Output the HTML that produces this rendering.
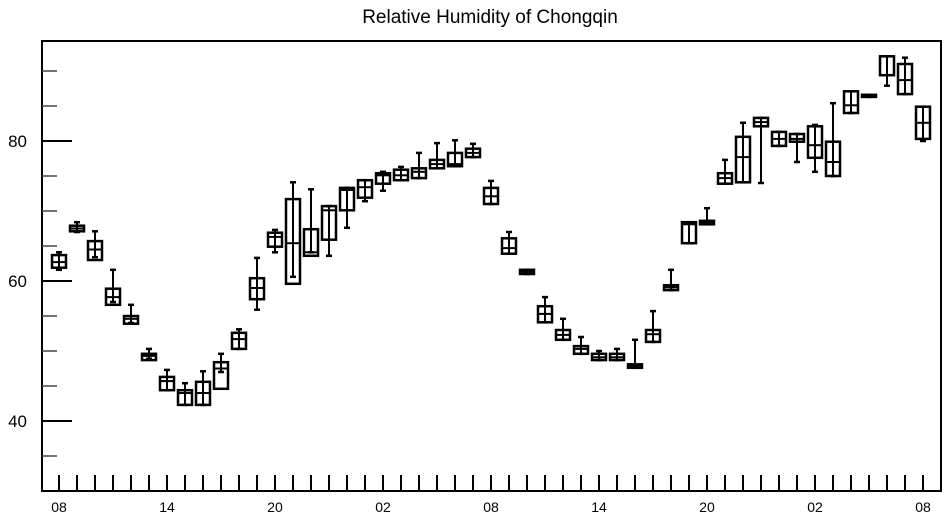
<!DOCTYPE html>
<html><head><meta charset="utf-8"><style>
html,body{margin:0;padding:0;background:#fff;}
svg text{font-family:"Liberation Sans",sans-serif;fill:#000;}
</style></head><body>
<svg id="chart" width="947" height="520" viewBox="0 0 947 520" xmlns="http://www.w3.org/2000/svg">
<text x="490" y="23" font-size="19" text-anchor="middle">Relative Humidity of Chongqin</text>
<rect x="42" y="41" width="899" height="450" fill="none" stroke="#000" stroke-width="2"/>
<g id="axes"></g>
<g id="boxes"></g>
</svg>
<script>
const hours = ["08","09","10","11","12","13","14","15","16","17","18","19","20","21","22","23","00","01","02","03","04","05","06","07","08","09","10","11","12","13","14","15","16","17","18","19","20","21","22","23","00","01","02","03","04","05","06","07","08"];
const xTickLabels = ["08","14","20","02","08","14","20","02","08"];
const yTickLabels = [40,60,80];
const q1 =  [61.9,67.1,63.0,56.6,53.9,48.7,44.4,42.3,42.3,44.6,50.3,57.4,64.9,59.6,63.6,65.9,70.1,71.9,73.9,74.4,74.7,76.1,76.4,77.7,71.0,63.9,61.0,54.1,51.6,49.6,48.7,48.7,47.6,51.3,58.7,65.4,68.1,73.9,74.1,82.1,79.3,79.9,77.6,75.0,84.0,86.3,89.4,86.7,80.3];
const med = [62.7,67.5,64.5,57.7,54.6,49.3,45.7,44.0,44.0,47.5,51.7,59.0,66.3,65.4,64.1,70.1,73.0,73.4,75.1,75.1,75.6,76.7,76.7,78.3,72.1,64.7,61.3,55.3,52.3,50.3,49.1,49.1,47.9,52.4,59.1,68.1,68.4,74.7,77.7,82.7,80.3,80.3,79.4,77.0,85.1,86.4,92.1,88.7,82.6];
const q3 =  [63.7,67.9,65.7,58.9,55.0,49.6,46.3,44.4,45.6,48.4,52.6,60.4,66.9,71.7,67.4,70.7,73.3,74.4,75.4,75.9,76.1,77.3,78.3,78.9,73.3,66.1,61.6,56.4,53.0,50.7,49.6,49.6,48.1,53.0,59.4,68.4,68.6,75.4,80.6,83.3,81.3,81.0,82.1,79.9,87.1,86.6,92.1,91.0,84.9];
const lo =  [61.6,67.0,63.4,57.0,54.0,48.9,44.4,42.3,42.3,47.0,50.3,55.9,64.1,60.6,64.1,63.6,67.6,71.4,72.9,74.4,74.7,76.1,76.4,77.7,71.0,63.9,61.0,54.1,51.6,49.6,48.7,48.7,47.6,51.3,58.7,65.4,68.1,73.9,74.1,74.0,79.3,77.0,75.6,75.0,84.0,86.3,87.9,86.7,80.0];
const hi =  [64.1,68.4,67.1,61.6,56.6,50.3,47.3,45.4,47.1,49.6,53.1,63.3,67.3,74.1,73.1,70.7,73.3,74.4,75.6,76.3,78.3,79.7,80.1,79.6,74.3,67.0,61.6,57.7,54.6,52.0,50.0,50.3,51.6,55.7,61.6,68.4,70.4,77.3,82.6,83.3,81.3,81.0,82.3,85.4,87.1,86.6,92.1,91.9,84.9];

const NS="http://www.w3.org/2000/svg";
const yScale = v => 141 - (v - 80) * 7;
const xScale = i => 59 + i * 18;
function mk(tag, attrs, parent){const e=document.createElementNS(NS,tag);for(const k in attrs)e.setAttribute(k,attrs[k]);parent.appendChild(e);return e;}
const axes=document.getElementById('axes');
const boxes=document.getElementById('boxes');
// y ticks every 5
for(let v=35; v<=90; v+=5){
  const major = yTickLabels.indexOf(v)>=0;
  const t=mk('line',{x1:42,x2:major?72:57,y1:yScale(v),y2:yScale(v),stroke:major?'#000':'#444','stroke-width':major?2:1.5},axes);
  
  
}
yTickLabels.forEach(v=>{
  const t=mk('text',{x:27,y:yScale(v)+6,'font-size':17,'text-anchor':'end'},axes);
  t.textContent=v;
  
  
});
hours.forEach((h,i)=>{
  const t=mk('line',{x1:xScale(i),x2:xScale(i),y1:475,y2:491,stroke:'#000','stroke-width':2},axes);
  
  
});
xTickLabels.forEach((lab,k)=>{
  const t=mk('text',{x:xScale(k*6),y:512,'font-size':14,'text-anchor':'middle'},axes);
  t.textContent=lab;
  
  
});
hours.forEach((h,i)=>{
  const g=mk('g',{},boxes);
  
  
  const x=xScale(i);
  const yq1=yScale(q1[i]), yq3=yScale(q3[i]), ym=yScale(med[i]), yl=yScale(lo[i]), yh=yScale(hi[i]);
  mk('line',{x1:x,x2:x,y1:yh,y2:yl,stroke:'#000','stroke-width':2},g);
  mk('line',{x1:x-3,x2:x+3,y1:yh,y2:yh,stroke:'#000','stroke-width':2.5},g);
  mk('line',{x1:x-3,x2:x+3,y1:yl,y2:yl,stroke:'#000','stroke-width':2.5},g);
  mk('rect',{x:x-7,y:yq3,width:14,height:Math.max(yq1-yq3,1.5),fill:'none',stroke:'#000','stroke-width':2.5},g);
  mk('line',{x1:x-7,x2:x+7,y1:ym,y2:ym,stroke:'#000','stroke-width':2},g);
});
</script>
</body></html>
